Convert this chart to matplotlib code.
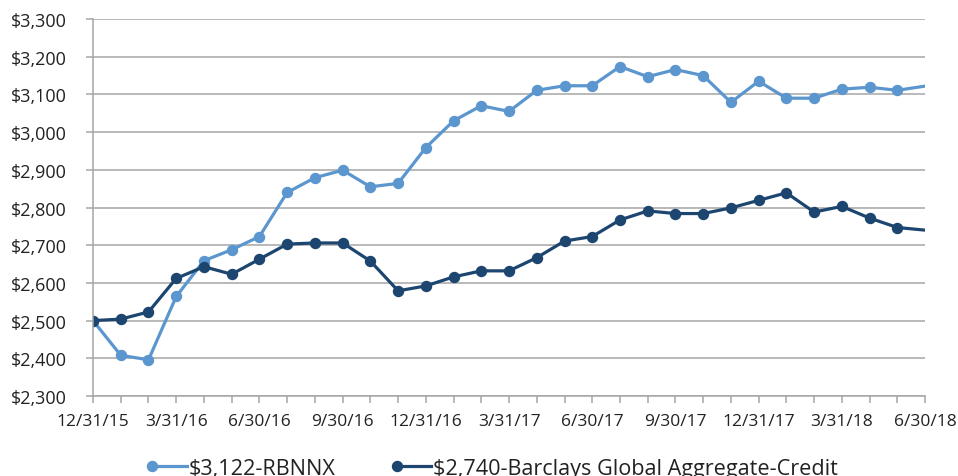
import numpy as np, matplotlib; matplotlib.use("Agg")
import matplotlib.pyplot as plt
from matplotlib.lines import Line2D
from matplotlib.legend_handler import HandlerBase

plt.rcParams['font.family'] = ['Open Sans', 'DejaVu Sans']

months = ["12/31/15", "1/31/16", "2/29/16", "3/31/16", "4/30/16", "5/31/16", "6/30/16",
          "7/31/16", "8/31/16", "9/30/16", "10/31/16", "11/30/16", "12/31/16",
          "1/31/17", "2/28/17", "3/31/17", "4/30/17", "5/31/17", "6/30/17",
          "7/31/17", "8/31/17", "9/30/17", "10/31/17", "11/30/17", "12/31/17",
          "1/31/18", "2/28/18", "3/31/18", "4/30/18", "5/31/18", "6/30/18"]
rbnnx = [2500, 2408, 2396, 2564, 2659, 2688, 2723, 2840, 2879, 2899, 2855, 2864, 2959,
         3030, 3070, 3055, 3111, 3123, 3123, 3174, 3147, 3166, 3150, 3079, 3135,
         3090, 3090, 3114, 3119, 3111, 3122]
barclays = [2500, 2504, 2523, 2612, 2643, 2623, 2663, 2703, 2706, 2706, 2658, 2579, 2592,
            2616, 2632, 2632, 2667, 2711, 2723, 2767, 2791, 2784, 2784, 2799, 2819,
            2839, 2788, 2803, 2772, 2747, 2740]
labels = ["$3,122-RBNNX", "$2,740-Barclays Global Aggregate-Credit"]
colors = ["#5B96CF", "#1C4670"]
yticks = list(range(2300, 3301, 100))


# legend handle: short line with the dot at its left end
class LeftDot(HandlerBase):
    def create_artists(self, legend, orig, xd, yd, w, h, fs, trans):
        y = (h - yd) / 2
        ln = Line2D([-xd, -xd + w], [y, y], color=orig.get_color(), lw=orig.get_linewidth())
        dot = Line2D([-xd], [y], color=orig.get_color(), marker="o", ms=orig.get_markersize(), lw=0)
        ln.set_transform(trans); dot.set_transform(trans)
        return [ln, dot]


fig = plt.figure(figsize=(9.58, 4.77), dpi=100)
ax = fig.add_axes([0.0971, 0.1677, 0.8685, 0.7903])
x = np.arange(len(months))
for ser, lab, col in zip([rbnnx, barclays], labels, colors):
    ax.plot(x, ser, color=col, lw=2.3, marker="o", ms=7.2, markevery=list(range(len(x) - 1)),
            label=lab, solid_joinstyle="round")

ax.set_xlim(0, len(x) - 1)
ax.set_ylim(2300, 3300)
ax.set_yticks(yticks)
ax.set_yticklabels([f"${v:,}" for v in yticks])
ax.set_xticks(x)
ax.set_xticklabels([m if i % 3 == 0 else "" for i, m in enumerate(months)])
ax.grid(axis="y", color="#A6A6A6", lw=1.1)
ax.set_axisbelow(True)
for s in ["top", "right"]:
    ax.spines[s].set_visible(False)
for s in ["left", "bottom"]:
    ax.spines[s].set_color("#A6A6A6")
    ax.spines[s].set_linewidth(1.1)
ax.tick_params(axis="both", colors="#A6A6A6", labelcolor="#222222", length=5, width=1.1,
               labelsize=12.5)
ax.tick_params(axis="y", pad=14, labelsize=13)
ax.tick_params(axis="x", pad=7)

h, l = ax.get_legend_handles_labels()
fig.legend(h, l, loc="center", bbox_to_anchor=(0.517, 0.016), ncol=2, frameon=False,
           fontsize=15.6, handlelength=1.6, handletextpad=0.1, columnspacing=2.8,
           handler_map={Line2D: LeftDot()}, labelcolor="#222222")

fig.savefig("out.png", dpi=100)
print("ok")
